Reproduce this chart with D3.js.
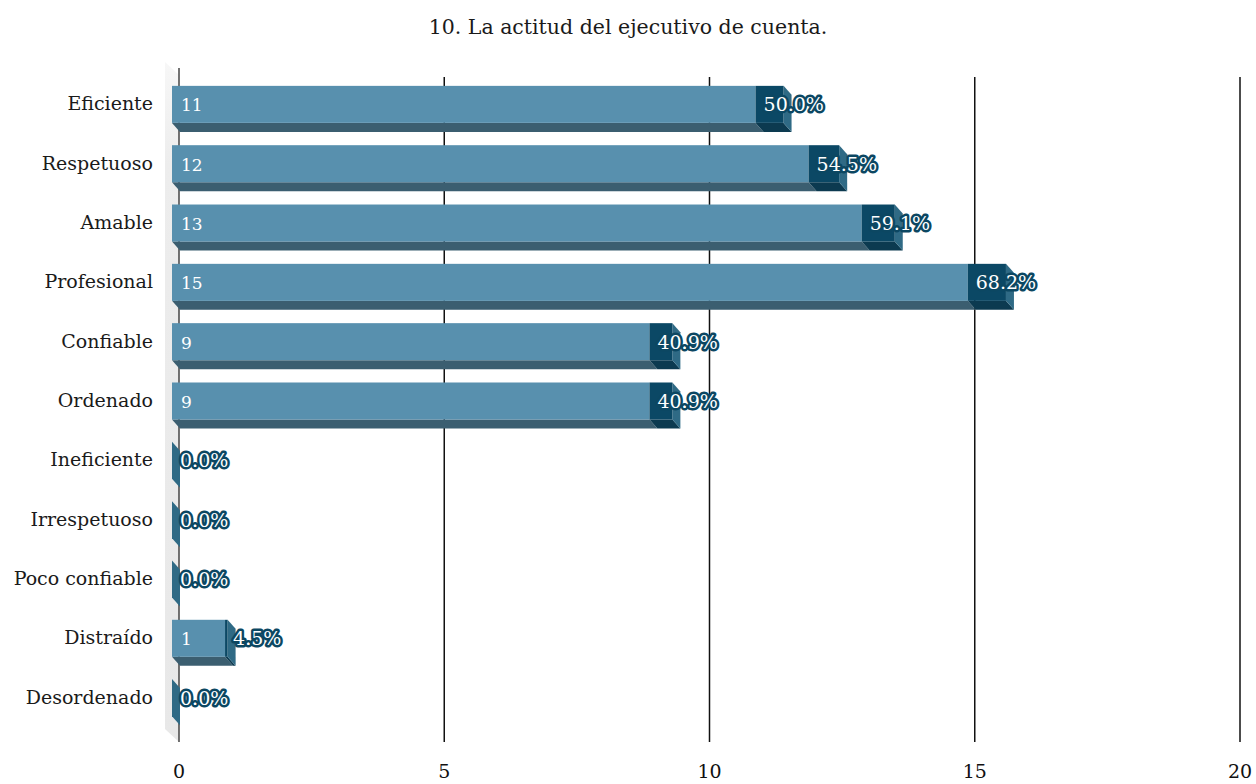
<!DOCTYPE html>
<html>
<head>
<meta charset="utf-8">
<script src="https://cdn.jsdelivr.net/npm/d3@7"></script>
<style>
  html, body { margin: 0; padding: 0; background: #fff; }
  svg { display: block; }
</style>
</head>
<body>
<svg id="chart" width="1256" height="784"></svg>
<script>
// Attitude ratings of the account executive (count of answers, share of 22 respondents)
const categories = ["Eficiente", "Respetuoso", "Amable", "Profesional", "Confiable", "Ordenado",
                    "Ineficiente", "Irrespetuoso", "Poco confiable", "Distraído", "Desordenado"];
const counts = [11, 12, 13, 15, 9, 9, 0, 0, 0, 1, 0];
const percents = ["50.0%", "54.5%", "59.1%", "68.2%", "40.9%", "40.9%", "0.0%", "0.0%", "0.0%", "4.5%", "0.0%"];
const xTicks = [0, 5, 10, 15, 20];
const title = "10. La actitud del ejecutivo de cuenta.";

const svg = d3.select("#chart");
const serif = "'DejaVu Serif', 'Liberation Serif', serif";

// plot geometry (back wall plane carries the grid)
const x = d3.scaleLinear().domain([0, 20]).range([179, 1240]);
const y = d3.scaleBand().domain(categories).range([74, 728]).paddingInner(0.376).paddingOuter(0.2);

const depthX = 8, depthY = 9;       // extrusion of each bar towards the back
const frontShift = -7;              // front faces sit in front of the wall
const capRatio = 0.048;             // perspective widening of the bar end

// side wall, fading out towards the top
const defs = svg.append("defs");
const wallGrad = defs.append("linearGradient").attr("id", "wall")
  .attr("x1", 0).attr("y1", 0).attr("x2", 0).attr("y2", 1);
wallGrad.append("stop").attr("offset", 0).attr("stop-color", "#f7f7f7");
wallGrad.append("stop").attr("offset", 0.15).attr("stop-color", "#ededed");
wallGrad.append("stop").attr("offset", 1).attr("stop-color", "#e8e8e8");
svg.append("polygon")
  .attr("points", [[165, 62], [179, 75], [179, 742], [165, 729]].map(p => p.join(",")).join(" "))
  .attr("fill", "url(#wall)");

// grid lines
svg.append("g").selectAll("line").data(xTicks).join("line")
  .attr("x1", d => x(d)).attr("x2", d => x(d))
  .attr("y1", d => d === 0 ? 68 : 77).attr("y2", 742)
  .attr("stroke", d => d === 0 ? "#444" : "#111").attr("stroke-width", 1.5);

// tick labels
svg.append("g").selectAll("text").data(xTicks).join("text")
  .attr("x", d => x(d)).attr("y", 778)
  .attr("text-anchor", "middle")
  .attr("font-family", serif).attr("font-size", 19).attr("fill", "#111")
  .text(d => d);

// category labels
svg.append("g").selectAll("text").data(categories).join("text")
  .attr("x", 153).attr("y", d => y(d) + y.bandwidth() / 2 + 6)
  .attr("text-anchor", "end")
  .attr("font-family", serif).attr("font-size", 19).attr("fill", "#1a1a1a")
  .text(d => d);

// bars
const bars = svg.append("g").selectAll("g").data(categories).join("g");
bars.each(function (c, i) {
  const g = d3.select(this);
  const v = counts[i];
  const top = y(c), h = y.bandwidth();
  const x0 = x(0) + frontShift;
  const x1 = x(v) + frontShift;
  const x2 = x1 + (x(v) - x(0)) * capRatio;
  const poly = pts => pts.map(p => p.join(",")).join(" ");

  // bottom face
  g.append("polygon")
    .attr("points", poly([[x0, top + h], [x1, top + h], [x1 + depthX, top + h + depthY], [x0 + depthX, top + h + depthY]]))
    .attr("fill", "#3b5e70");
  g.append("polygon")
    .attr("points", poly([[x1, top + h], [x2, top + h], [x2 + depthX, top + h + depthY], [x1 + depthX, top + h + depthY]]))
    .attr("fill", "#0c3a50");
  // end face
  g.append("polygon")
    .attr("points", poly([[x2, top], [x2 + depthX, top + depthY], [x2 + depthX, top + h + depthY], [x2, top + h]]))
    .attr("fill", "#2f6a85");
  // front face
  g.append("rect").attr("x", x0).attr("y", top).attr("width", x1 - x0).attr("height", h)
    .attr("fill", "#5890ae");
  g.append("rect").attr("x", x1).attr("y", top).attr("width", x2 - x1).attr("height", h)
    .attr("fill", "#0b4865");

  if (v > 0) {
    g.append("text")
      .attr("x", x0 + 9).attr("y", top + h / 2 + 7)
      .attr("font-family", serif).attr("font-size", 17).attr("fill", "#fff")
      .text(v);
  }
  g.append("text")
    .attr("x", x1 + 8).attr("y", top + h / 2 + 7)
    .attr("font-family", serif).attr("font-size", 19).attr("fill", "#fff")
    .attr("stroke", "#0c4762").attr("stroke-width", 5).attr("stroke-linejoin", "round")
    .attr("paint-order", "stroke")
    .text(percents[i]);
});

// title
svg.append("text")
  .attr("x", 628).attr("y", 34)
  .attr("text-anchor", "middle")
  .attr("font-family", serif).attr("font-size", 20.5).attr("fill", "#1a1a1a")
  .text(title);
</script>
</body>
</html>
